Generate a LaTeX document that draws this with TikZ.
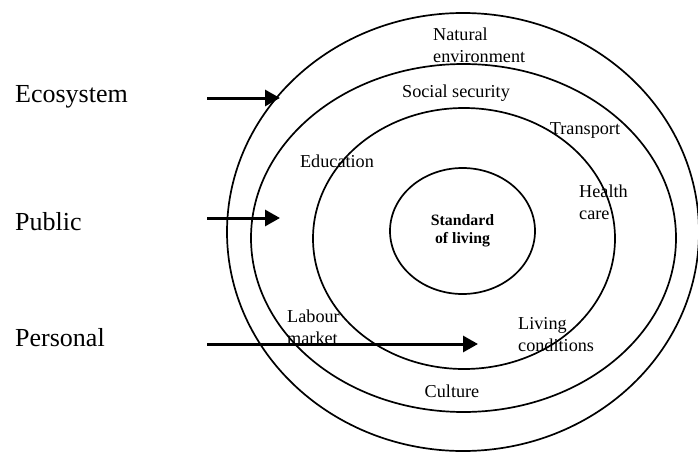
\documentclass[tikz,border=0pt]{standalone}
\usepackage{fontspec}
\setmainfont{Liberation Serif}
\usetikzlibrary{shapes.geometric,arrows.meta}
\tikzset{
  ring/.style={draw, ellipse, line width=1.7pt, inner sep=0pt},
  big/.style={font=\fontsize{26}{30}\selectfont, inner sep=0pt, anchor=west},
  lab/.style={font=\fontsize{18.2}{22}\selectfont, inner sep=0pt, align=left},
  arr/.style={line width=3pt, -{Triangle[length=15pt,width=16pt]}}
}
\begin{document}
\begin{tikzpicture}[x=1pt,y=-1pt]
\useasboundingbox (0,0) rectangle (698,452);
% rings
\node[ring, minimum width=472pt, minimum height=438pt] (eco) at (463,232) {};
\node[ring, minimum width=425pt, minimum height=348pt] (pub) at (463.5,238) {};
\node[ring, minimum width=302pt, minimum height=261pt] (pers) at (464,238.5) {};
\node[ring, minimum width=145pt, minimum height=126pt, font=\fontsize{15.8}{18}\bfseries\selectfont, align=center] (std) at (462.5,231) {Standard\\of living};
% left labels
\node[big] (lEco) at (15,97) {Ecosystem};
\node[big] (lPub) at (15,222) {Public};
\node[big] (lPer) at (15,338) {Personal};
% arrows
\coordinate (s1) at (207,98);  \coordinate (e1) at (280,98);
\coordinate (s2) at (207,218); \coordinate (e2) at (280,218);
\coordinate (s3) at (207,344); \coordinate (e3) at (478,344);
\draw[arr] (s1) -- (e1);
\draw[arr] (s2) -- (e2);
\draw[arr] (s3) -- (e3);
% ring labels
\node[lab, anchor=west] (nat) at (433,45) {Natural\\environment};
\node[lab] (soc) at (456,93) {Social security};
\node[lab] (tra) at (585,130) {Transport};
\node[lab] (edu) at (337,161) {Education};
\node[lab, anchor=west] (hea) at (579,202) {Health\\care};
\node[lab, anchor=west] (lab) at (287,327.5) {Labour\\market};
\node[lab, anchor=west] (liv) at (518,334.5) {Living\\conditions};
\node[lab] (cul) at (452,391) {Culture};
\end{tikzpicture}
\end{document}
